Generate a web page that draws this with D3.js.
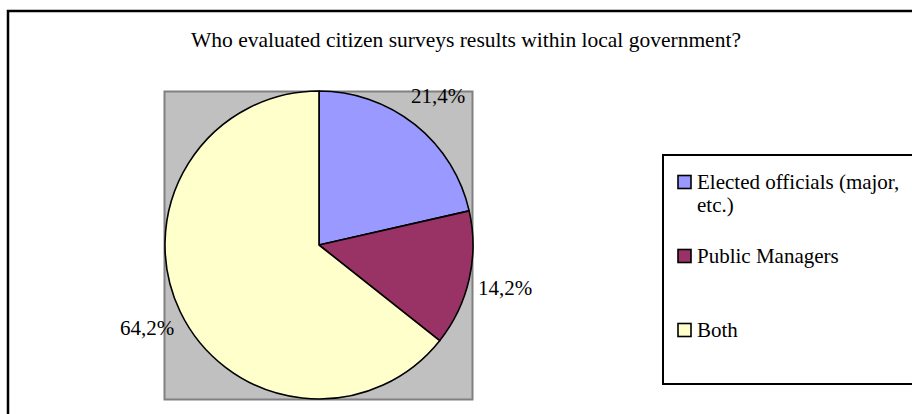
<!DOCTYPE html>
<html><head><meta charset="utf-8">
<script src="https://cdn.jsdelivr.net/npm/d3@7/dist/d3.min.js"></script>
</head><body style="margin:0"><svg id="c" width="912" height="414" font-family="Liberation Serif" style="font-family:'Liberation Serif',serif"></svg>
<script>
const title = "Who evaluated citizen surveys results within local government?";
const categories = ["Elected officials (major, etc.)", "Public Managers", "Both"];
const legendLines = [["Elected officials (major,", "etc.)"], ["Public Managers"], ["Both"]];
const values = [21.4, 14.2, 64.2];
const labels = ["21,4%", "14,2%", "64,2%"];
const colors = ["#9999ff", "#993366", "#ffffcc"];

const FONT = "'Liberation Serif', 'Times New Roman', serif";
const svg = d3.select("#c");
function serif(t, size) {
  return t.attr("font-family", "Liberation Serif").attr("font-size", size)
    .style("font-family", FONT, "important").style("font-size", size + "px", "important")
    .style("fill", "#000");
}
// outer chart border
svg.append("rect").attr("x", 8).attr("y", 11).attr("width", 920).attr("height", 420)
  .attr("fill", "#fff").attr("stroke", "#000").attr("stroke-width", 2.5);

serif(svg.append("text").attr("x", 466).attr("y", 47).attr("text-anchor", "middle"), 21.5).text(title);

// plot area
svg.append("rect").attr("x", 164.5).attr("y", 91.5).attr("width", 308).attr("height", 308)
  .attr("fill", "#c0c0c0").attr("stroke", "#808080").attr("stroke-width", 2);

const cx = 319, cy = 245, r = 154;
const pie = d3.pie().sort(null).value(d => d)(values);
const arc = d3.arc().innerRadius(0).outerRadius(r);
const labelArc = d3.arc().innerRadius(191).outerRadius(191);
const g = svg.append("g").attr("transform", `translate(${cx},${cy})`);
g.selectAll("path").data(pie).join("path")
  .attr("d", arc).attr("fill", (d, i) => colors[i])
  .attr("stroke", "#000").attr("stroke-width", 1.6).attr("stroke-linejoin", "round");
serif(g.selectAll("text").data(pie).join("text")
  .attr("transform", d => `translate(${labelArc.centroid(d)})`)
  .attr("text-anchor", "middle").attr("dy", "0.35em"), 21)
  .text((d, i) => labels[i]);

// legend
svg.append("rect").attr("x", 663).attr("y", 155).attr("width", 300).attr("height", 229)
  .attr("fill", "#fff").attr("stroke", "#000").attr("stroke-width", 2);
const legendY = [182, 256, 330];
const lg = svg.append("g");
categories.forEach((c, i) => {
  lg.append("rect").attr("x", 678).attr("y", legendY[i] - 6.5).attr("width", 13).attr("height", 13)
    .attr("fill", colors[i]).attr("stroke", "#000").attr("stroke-width", 1.6);
  legendLines[i].forEach((ln, j) => {
    serif(lg.append("text").attr("x", 697).attr("y", legendY[i] + j * 23).attr("dy", "0.35em"), 21).text(ln);
  });
});
</script></body></html>
